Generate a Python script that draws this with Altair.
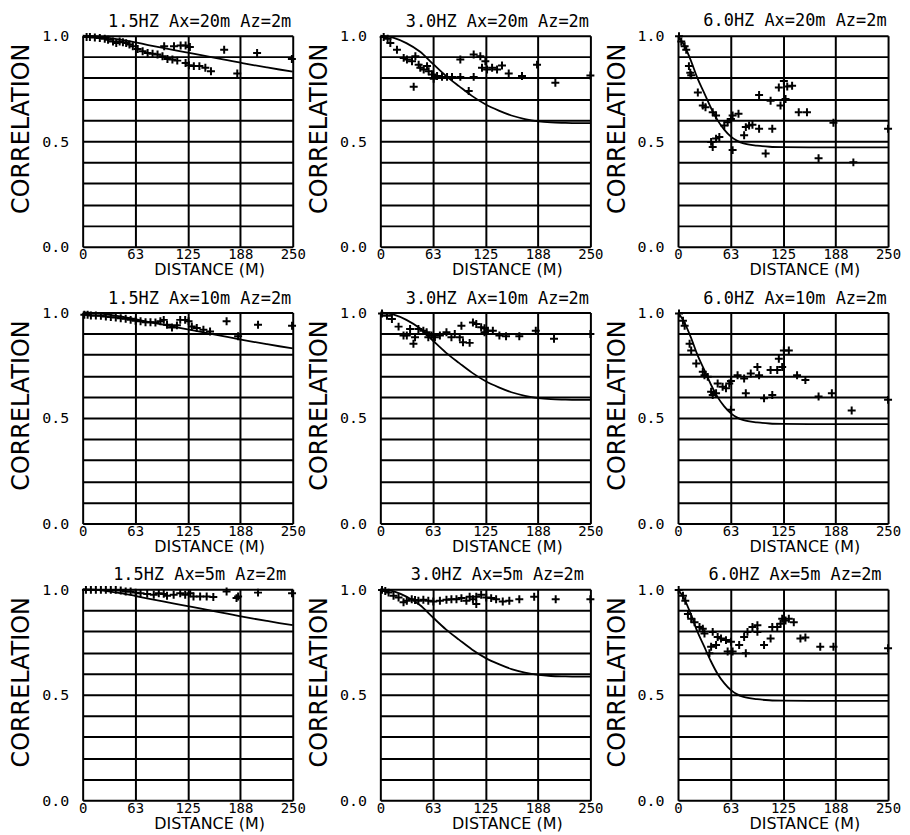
import altair as alt
import pandas as pd

# ---------------- data ----------------
titles = [
    "1.5HZ Ax=20m Az=2m", "3.0HZ Ax=20m Az=2m", "6.0HZ Ax=20m Az=2m",
    "1.5HZ Ax=10m Az=2m", "3.0HZ Ax=10m Az=2m", "6.0HZ Ax=10m Az=2m",
    "1.5HZ Ax=5m Az=2m", "3.0HZ Ax=5m Az=2m", "6.0HZ Ax=5m Az=2m",
]

# model curves (one per frequency)
curve15_d = [0, 16, 31, 47, 63, 78, 94, 109, 125, 141, 156, 172, 188, 203, 219, 234, 250]
curve15_c = [1.0, 0.997, 0.99, 0.98, 0.968, 0.956, 0.944, 0.932, 0.92, 0.908, 0.896, 0.884, 0.872, 0.861, 0.85, 0.84, 0.83]
curve30_d = [0, 16, 31, 47, 63, 78, 94, 109, 125, 141, 156, 172, 188, 203, 219, 234, 250]
curve30_c = [1.0, 0.99, 0.965, 0.925, 0.865, 0.81, 0.76, 0.715, 0.675, 0.645, 0.622, 0.605, 0.594, 0.589, 0.587, 0.586, 0.586]
curve60_d = [0, 8, 16, 23, 31, 39, 47, 55, 63, 70, 78, 94, 109, 125, 156, 188, 219, 250]
curve60_c = [1.0, 0.95, 0.875, 0.8, 0.73, 0.66, 0.6, 0.555, 0.522, 0.503, 0.49, 0.479, 0.474, 0.472, 0.471, 0.471, 0.471, 0.471]

# measured points
p1_d = [4.7, 8.6, 14.5, 20.4, 26.3, 30.2, 36.1, 40, 44, 47.9, 51.8, 55.7, 59.7, 65.5, 71.4, 77.3, 83.2, 89.1, 95, 100.9,
        106.8, 112.6, 97, 108.7, 116.6, 122.5, 127.6, 122.5, 126.4, 132.3, 138.9, 146, 152.7, 168.4, 207.6, 184, 249]
p1_c = [0.994, 0.994, 0.992, 0.989, 0.986, 0.981, 0.973, 0.965, 0.973, 0.969, 0.965, 0.958, 0.95, 0.937, 0.926, 0.918,
        0.915, 0.911, 0.903, 0.89, 0.887, 0.882, 0.95, 0.95, 0.954, 0.954, 0.947, 0.871, 0.86, 0.856, 0.856, 0.848, 0.832,
        0.934, 0.918, 0.821, 0.89]

p2_d = [4, 8.7, 11.9, 19.8, 27.8, 31.7, 37.7, 41.7, 45.6, 47.6, 51.6, 55.6, 57.5, 61.5, 63.5, 67.5, 73.4, 79.4, 85.3,
        95.2, 111.1, 39.7, 95.2, 111.1, 119, 125, 121, 127, 133, 138.9, 144.8, 152.8, 168.6, 186.5, 208.3, 250, 105.2]
p2_c = [0.994, 0.986, 0.965, 0.934, 0.895, 0.887, 0.879, 0.903, 0.863, 0.848, 0.84, 0.856, 0.832, 0.816, 0.796, 0.809,
        0.805, 0.805, 0.805, 0.805, 0.805, 0.758, 0.887, 0.911, 0.903, 0.879, 0.848, 0.84, 0.848, 0.84, 0.859, 0.821,
        0.809, 0.863, 0.777, 0.812, 0.738]

p3_d = [1.2, 3.9, 7.9, 9.8, 13, 14.6, 15.7, 23.6, 29.5, 32.7, 41.3, 45.3, 39.4, 41.3, 45.3, 49.2, 55.1, 59.1, 63, 65,
        72, 65, 78.7, 80.7, 84.6, 88.6, 96.5, 96.5, 104.3, 110.2, 112.2, 120, 122, 126, 128, 130, 135.8, 143.7, 153.5,
        167.3, 185, 208.7, 250]
p3_c = [0.997, 0.973, 0.95, 0.934, 0.856, 0.825, 0.8125, 0.731, 0.669, 0.661, 0.6375, 0.622, 0.497, 0.473, 0.5125,
        0.52, 0.575, 0.59, 0.606, 0.622, 0.63, 0.458, 0.528, 0.567, 0.575, 0.578, 0.559, 0.719, 0.442, 0.692, 0.559,
        0.755, 0.669, 0.786, 0.7, 0.759, 0.7625, 0.6375, 0.6375, 0.419, 0.5875, 0.4, 0.559]

p4_d = [2, 5.9, 9.8, 15.7, 21.7, 27.6, 33.5, 39.4, 45.3, 51.2, 57.1, 63, 68.9, 74.8, 80.7, 86.6, 92.5, 96.5, 100.4,
        106.3, 112.2, 116.1, 122, 126, 129.9, 135.8, 143.7, 151.6, 171.3, 185, 208.7, 249.2]
p4_c = [0.989, 0.989, 0.986, 0.986, 0.984, 0.981, 0.978, 0.976, 0.973, 0.97, 0.965, 0.961, 0.958, 0.954, 0.954, 0.953,
        0.958, 0.965, 0.942, 0.929, 0.939, 0.965, 0.965, 0.958, 0.934, 0.926, 0.918, 0.91, 0.958, 0.887, 0.942, 0.937]

p5_d = [2, 7.9, 13.8, 21.7, 27.6, 31.5, 35.4, 39.4, 41.3, 45.3, 51.2, 55.1, 57.1, 61, 65, 70.9, 78.7, 84.6, 88.6,
        96.5, 94.5, 98.4, 106.3, 110.2, 114.2, 120, 124, 124, 128, 133.9, 141.7, 149.6, 165.4, 185, 206.7, 250]
p5_c = [0.995, 0.984, 0.969, 0.933, 0.891, 0.891, 0.922, 0.852, 0.883, 0.922, 0.914, 0.906, 0.883, 0.891, 0.883,
        0.891, 0.906, 0.883, 0.898, 0.9375, 0.883, 0.859, 0.856, 0.953, 0.945, 0.93, 0.925, 0.906, 0.914, 0.914,
        0.891, 0.8875, 0.8875, 0.914, 0.875, 0.898]

p6_d = [1.2, 5.9, 7.9, 13.8, 15.7, 21.7, 29.5, 31.5, 35.4, 39.4, 41.3, 45.3, 47.2, 53.1, 57.1, 61, 63, 63, 70.9,
        78.7, 80.7, 86.6, 94.5, 96.5, 102.4, 110.2, 112.2, 118.1, 120, 124, 126, 131.9, 141.7, 151.6, 167.3, 183.1,
        206.7, 250]
p6_c = [0.995, 0.961, 0.9375, 0.852, 0.82, 0.758, 0.719, 0.703, 0.695, 0.625, 0.609, 0.617, 0.664, 0.648, 0.641,
        0.664, 0.675, 0.539, 0.703, 0.6875, 0.617, 0.711, 0.742, 0.703, 0.594, 0.727, 0.609, 0.727, 0.781, 0.742,
        0.82, 0.82, 0.703, 0.68, 0.602, 0.617, 0.536, 0.586]

p7_d = [3.9, 9.8, 15.7, 21.7, 27.6, 33.5, 39.4, 45.3, 51.2, 57.1, 63, 68.9, 76.8, 84.6, 90.6, 96.5, 100.4, 108.3,
        116.1, 122, 128, 131.9, 139.8, 147.6, 155.5, 171.3, 183.1, 185, 208.7, 249.2]
p7_c = [0.997, 0.997, 0.997, 0.997, 0.997, 0.997, 0.997, 0.994, 0.989, 0.989, 0.984, 0.981, 0.978, 0.974, 0.981,
        0.978, 0.969, 0.974, 0.981, 0.974, 0.981, 0.966, 0.966, 0.966, 0.963, 0.989, 0.958, 0.966, 0.984, 0.981]

p8_d = [2, 5.9, 9.8, 15.7, 21.7, 27.6, 31.5, 37.4, 41.3, 45.3, 51.2, 57.1, 63, 70.9, 78.7, 84.6, 90.6, 96.5, 102.4,
        106.3, 110.2, 114.2, 114.2, 120, 126, 131.9, 137.8, 145.7, 153.5, 165.4, 183.1, 208.7, 250]
p8_c = [0.997, 0.992, 0.984, 0.969, 0.961, 0.938, 0.946, 0.953, 0.949, 0.946, 0.95, 0.946, 0.942, 0.946, 0.95,
        0.953, 0.953, 0.958, 0.946, 0.964, 0.953, 0.93, 0.964, 0.974, 0.961, 0.958, 0.953, 0.942, 0.946, 0.953,
        0.964, 0.953, 0.953]

p9_d = [0.8, 5.9, 8.7, 11.8, 15.7, 19.7, 25.6, 29.5, 31.5, 37.4, 39.4, 41.3, 45.3, 47.2, 51.2, 57.1, 59.1, 63, 65,
        72.8, 78.7, 80.7, 82.7, 88.6, 94.5, 94.5, 102.4, 110.2, 112.2, 118.1, 122, 124, 128, 131.9, 137.8, 145.7,
        151.6, 169.3, 185, 250]
p9_c = [0.997, 0.969, 0.946, 0.883, 0.86, 0.844, 0.821, 0.813, 0.79, 0.697, 0.728, 0.798, 0.736, 0.774, 0.767,
        0.759, 0.705, 0.751, 0.705, 0.736, 0.774, 0.697, 0.798, 0.821, 0.829, 0.798, 0.736, 0.767, 0.821, 0.821,
        0.837, 0.86, 0.852, 0.86, 0.844, 0.767, 0.771, 0.728, 0.728, 0.72]

x_ticks = [0, 62.5, 125, 187.5, 250]
y_ticks = [0.0, 0.1, 0.2, 0.3, 0.4, 0.5, 0.6, 0.7, 0.8, 0.9, 1.0]

points = [(p1_d, p1_c), (p2_d, p2_c), (p3_d, p3_c),
          (p4_d, p4_c), (p5_d, p5_c), (p6_d, p6_c),
          (p7_d, p7_c), (p8_d, p8_c), (p9_d, p9_c)]
curves = [(curve15_d, curve15_c), (curve30_d, curve30_c), (curve60_d, curve60_c)] * 3

# ---------------- chart ----------------
MONO = "DejaVu Sans Mono"
SANS = "DejaVu Sans"

x_axis = alt.Axis(
    values=x_ticks, labelExpr="format(round(datum.value), 'd')",
    grid=True, gridColor="black", gridWidth=2, gridOpacity=1,
    ticks=False, domain=False, labelFont=MONO, labelFontSize=14, labelColor="black",
    labelPadding=1, labelFlush=False, labelOverlap=False,
    title="DISTANCE (M)", titleFont=SANS, titleFontSize=16, titleFontWeight="normal",
    titleColor="black", titleX=127, titleY=15, titleBaseline="top", titleAlign="center",
)
y_axis = alt.Axis(
    values=y_ticks,
    labelExpr="(datum.value == 0 || datum.value == 0.5 || datum.value == 1) ? format(datum.value, '.1f') : ''",
    grid=True, gridColor="black", gridWidth=2, gridOpacity=1,
    ticks=False, domain=False, labelFont=MONO, labelFontSize=15, labelColor="black",
    labelPadding=14, labelFlush=False, labelOverlap=False,
    title="CORRELATION", titleFont=SANS, titleFontSize=24, titleFontWeight="normal",
    titleColor="black", titleX=-61, titleY=93, titleAlign="center", titleBaseline="middle",
)

def panel(title, pts, crv):
    xenc = alt.X("d:Q", scale=alt.Scale(domain=[0, 250], nice=False, zero=False), axis=x_axis)
    yenc = alt.Y("c:Q", scale=alt.Scale(domain=[0, 1], nice=False), axis=y_axis)
    line = alt.Chart(pd.DataFrame({"d": crv[0], "c": crv[1]})).mark_line(
        color="black", strokeWidth=1.8, interpolate="monotone"
    ).encode(x=xenc, y=yenc)
    marks = alt.Chart(pd.DataFrame({"d": pts[0], "c": pts[1]})).mark_point(
        shape="M-1,0L1,0M0,-1L0,1", filled=False, color="black", strokeWidth=2,
        size=64, opacity=1
    ).encode(x=xenc, y=yenc)
    return alt.layer(line, marks).properties(
        width=211, height=212,
        title=alt.TitleParams(title, font=MONO, fontSize=17, fontWeight="normal",
                              color="black", anchor="middle", dx=12, offset=-2),
    )

panels = [panel(t, p, c) for t, p, c in zip(titles, points, curves)]

chart = alt.concat(*panels, columns=3, spacing={"row": 66, "column": 88}, bounds="flush").properties(
    padding={"left": 1, "top": 2, "right": 0, "bottom": 0}
).configure_view(stroke="black", strokeWidth=2).configure(background="white")

chart.save("out.html", embed_options={"renderer": "svg", "actions": False})
